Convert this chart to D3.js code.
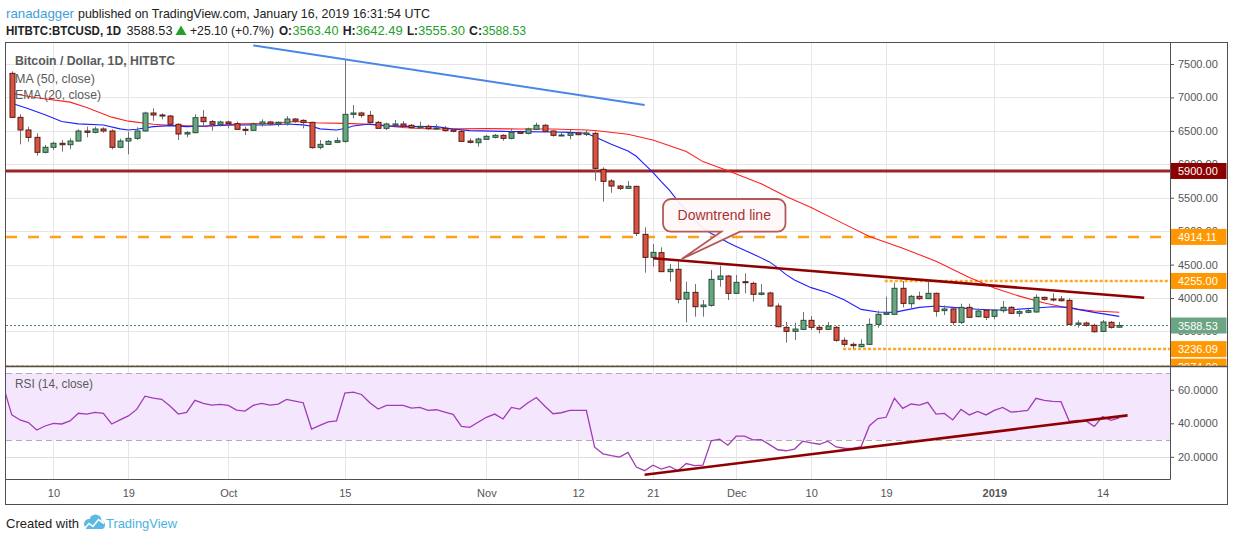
<!DOCTYPE html>
<html><head><meta charset="utf-8">
<script src="https://cdn.jsdelivr.net/npm/d3@7"></script>
<style>
html,body{margin:0;padding:0;background:#fff;}
svg{display:block;font-family:"Liberation Sans",Arial,sans-serif;}
</style></head><body>
<svg id="chart" width="1234" height="541"></svg>
<script>
// ---------------- DATA ----------------
const candleStart = "2018-09-05";
const opens = [
  /*Sep*/ 7360,6702,6513,6403,6179,6254,6314,6293,6348,6498,6478,6528,6498,6254,6348,6388,6498,6767,6737,6722,6598,6453,6473,6702,6638,6598,
  /*Oct*/ 6633,6608,6523,6508,6603,6633,6603,6618,6677,6657,6627,6254,6298,6329,6343,6747,6767,6732,6627,6538,6583,6603,6583,6548,6568,6528,6538,6513,6493,6348,6323,
  /*Nov*/ 6373,6403,6433,6388,6483,6463,6523,6583,6498,6433,6433,6468,6448,6463,5924,5750,5675,5640,5670,4952,4608,4678,4394,4429,3985,4085,3870,3890,4279,4329,
  /*Dec*/ 4070,4244,4219,4055,4075,3880,3561,3501,3531,3666,3561,3531,3561,3367,3307,3272,3307,3606,3756,3756,4145,3915,4025,3990,4070,3811,3836,3636,3860,3721,3816,
  /*Jan*/ 3726,3811,3860,3771,3786,3791,4010,3985,3985,3965,3606,3626,3591,3501,3636,3563.40
];
const highs = [
  /*Sep*/ 7390,6747,6563,6463,6289,6338,6363,6388,6523,6563,6563,6553,6523,6383,6488,6553,6787,6837,6762,6737,6613,6498,6747,6812,6663,6653,
  /*Oct*/ 6653,6638,6563,6623,6672,6650,6643,6722,6690,6672,6637,6363,6363,6403,7570,6887,6787,6797,6647,6623,6663,6647,6603,6637,6593,6597,6573,6528,6513,6388,6398,
  /*Nov*/ 6438,6453,6448,6528,6503,6548,6623,6603,6513,6473,6513,6488,6513,6488,5954,5780,5690,5750,5680,5057,4808,4758,4509,4543,4244,4209,3970,4419,4484,4344,
  /*Dec*/ 4344,4369,4244,4209,4095,3920,3641,3631,3791,3731,3596,3641,3581,3412,3337,3382,3696,3811,4020,4229,4254,4045,4095,4244,4080,3890,3860,3915,3915,3846,3831,
  /*Jan*/ 3831,3955,3880,3831,3841,4055,4020,4070,4030,3995,3666,3646,3616,3671,3656,3642.49
];
const lows = [
  /*Sep*/ 6690,6298,6338,6129,6164,6214,6189,6224,6338,6403,6463,6473,6224,6239,6149,6363,6490,6652,6672,6588,6363,6403,6463,6563,6503,6563,
  /*Oct*/ 6538,6513,6438,6503,6563,6583,6563,6578,6620,6538,6234,6224,6289,6318,6323,6687,6697,6617,6528,6513,6573,6538,6528,6533,6513,6513,6488,6478,6338,6313,6264,
  /*Nov*/ 6363,6388,6353,6373,6453,6448,6513,6483,6413,6423,6373,6433,6423,5755,5441,5575,5615,5630,4927,4379,4469,4394,4244,3920,3636,3721,3721,3870,4169,3970,
  /*Dec*/ 4060,4070,3945,4040,3870,3561,3332,3372,3521,3521,3472,3521,3347,3272,3237,3262,3297,3556,3746,3746,3860,3845,3970,3985,3721,3746,3596,3611,3701,3711,3671,
  /*Jan*/ 3681,3781,3761,3721,3771,3781,3960,3945,3945,3596,3556,3571,3481,3491,3541,3555.30
];
const closes = [
  /*Sep*/ 6702,6513,6403,6179,6254,6314,6293,6348,6498,6478,6528,6498,6254,6348,6388,6498,6767,6737,6722,6598,6453,6473,6697,6638,6598,6633,
  /*Oct*/ 6608,6523,6508,6603,6633,6603,6628,6677,6647,6627,6249,6298,6343,6353,6747,6767,6732,6627,6538,6603,6603,6573,6548,6568,6533,6543,6503,6493,6343,6328,6378,
  /*Nov*/ 6418,6433,6388,6478,6463,6528,6583,6493,6433,6438,6468,6443,6468,5939,5745,5675,5640,5670,4967,4608,4683,4394,4429,3980,4085,3870,3895,4279,4329,4070,
  /*Dec*/ 4234,4229,4055,4075,3880,3571,3501,3536,3666,3561,3531,3581,3367,3307,3287,3307,3606,3756,3776,4145,3920,4025,3990,4070,3801,3836,3636,3860,3711,3806,3711,
  /*Jan*/ 3816,3860,3771,3796,3811,4010,3980,3970,3960,3606,3626,3591,3496,3641,3561,3588.53
];

const ma50Dates = ["2018-09-05","2018-09-08","2018-09-12","2018-09-14","2018-09-17","2018-09-19","2018-09-22","2018-09-24","2018-09-27","2018-09-28",
  "2018-10-02","2018-10-06","2018-10-09","2018-10-11","2018-10-15","2018-10-18","2018-10-20","2018-10-22","2018-10-24","2018-10-26",
  "2018-11-01","2018-11-05","2018-11-09","2018-11-13","2018-11-14","2018-11-18","2018-11-21","2018-11-25","2018-11-27","2018-11-30",
  "2018-12-04","2018-12-07","2018-12-10","2018-12-14","2018-12-17","2018-12-21","2018-12-25","2018-12-29",
  "2019-01-01","2019-01-04","2019-01-07","2019-01-10","2019-01-13","2019-01-16"];
const ma50Values = [7060,6995,6930,6850,6705,6645,6600,6583,6572,6565,
  6600,6613,6640,6622,6612,6597,6575,6550,6535,6528,
  6533,6528,6528,6513,6505,6450,6363,6190,6040,5905,
  5710,5520,5355,5105,4920,4745,4550,4305,
  4150,4028,3925,3848,3805,3786];

const ema20Dates = ["2018-09-05","2018-09-07","2018-09-09","2018-09-11","2018-09-13","2018-09-16","2018-09-18","2018-09-19","2018-09-20","2018-09-22","2018-09-24","2018-09-26","2018-09-28",
  "2018-10-02","2018-10-06","2018-10-08","2018-10-10","2018-10-11","2018-10-12","2018-10-14","2018-10-15","2018-10-16","2018-10-18","2018-10-20","2018-10-24","2018-10-26","2018-10-28","2018-10-30",
  "2018-11-03","2018-11-05","2018-11-09","2018-11-11","2018-11-13","2018-11-14","2018-11-15","2018-11-16","2018-11-18","2018-11-19","2018-11-20","2018-11-21","2018-11-22","2018-11-23","2018-11-24","2018-11-25","2018-11-26","2018-11-27","2018-11-28","2018-11-29","2018-11-30",
  "2018-12-01","2018-12-03","2018-12-05","2018-12-06","2018-12-07","2018-12-08","2018-12-10","2018-12-12","2018-12-14","2018-12-16","2018-12-18","2018-12-20","2018-12-21","2018-12-23","2018-12-25","2018-12-27","2018-12-30",
  "2019-01-01","2019-01-03","2019-01-06","2019-01-08","2019-01-10","2019-01-11","2019-01-13","2019-01-16"];
const ema20Values = [6912,6830,6740,6640,6605,6588,6530,6513,6525,6563,6578,6563,6573,
  6588,6588,6603,6590,6570,6530,6513,6535,6573,6603,6575,6563,6563,6528,6503,
  6493,6488,6483,6478,6465,6413,6355,6300,6200,6120,6000,5880,5740,5610,5450,5320,5170,5045,4965,4900,4830,
  4770,4660,4540,4450,4350,4270,4155,4080,3970,3830,3790,3785,3811,3860,3880,3860,3831,
  3821,3825,3850,3870,3860,3830,3785,3725];

const rsiStart = "2018-09-04";
const rsiValues = [
  /*Sep*/ 62,45,42,40.4,36,38.4,40,39.6,41.4,46,45.5,46.5,46,39.6,42,44.4,48.3,56.2,55,54.3,50.3,45.5,46.5,53.7,51.9,50.9,51.3,
  /*Oct*/ 50.7,47.9,47.3,50.7,51.9,50.9,51.5,54.3,53.3,52.3,36.6,38.8,40.8,41.4,58,58.6,57.2,52.3,48.5,50.7,50.7,50.7,49.1,49.5,47.7,48.1,46.7,45.3,38.2,37.6,40.6,
  /*Nov*/ 43.6,45.5,42.6,49.5,48.5,52.3,55.4,50.3,45.7,46.3,47.7,47.7,47.7,25.7,21.8,20.7,19.8,22.6,13.9,11.7,15,12.7,14.3,11.7,16,14.7,15,29.5,30.5,26.9,
  /*Dec*/ 32.3,32.3,30.1,30.3,27.3,24.2,23.6,24.6,29.3,28.3,27.5,29.3,25.9,25.1,25,26.1,38.6,42.8,43.6,54.9,48.9,51.5,50.9,52.5,45.5,45.9,42,48.3,45,47.1,45,
  /*Jan*/ 47.7,49.5,46.7,47.1,47.7,54.9,53.7,53.1,52.9,41.2,41.8,41.4,38.2,44,41.8,43.2
];

const xTickDates = ["2018-09-10","2018-09-19","2018-10-01","2018-10-15","2018-11-01","2018-11-12","2018-11-21","2018-12-01","2018-12-10","2018-12-19","2019-01-01","2019-01-14"];
const xTickLabels = ["10","19","Oct","15","Nov","12","21","Dec","10","19","2019","14"];
const priceTicks = [3000,3500,4000,4500,5000,5500,6000,6500,7000,7500];
const rsiTicks = [20,40,60];

// horizontal levels
const levelPrices = [5900, 4914.11, 4255, 3236.09, 2974];
const levelStarts = [null, null, "2018-12-18T20:00Z", "2018-12-13T20:00Z", null];
const levelKinds = ["solid", "dash", "dot", "dot", "dot"];
// trend lines [date, value]
const blueTrend = [["2018-10-04", 7778], ["2018-11-20", 6888]];
const downTrend = [["2018-11-21", 4594], ["2019-01-19", 4004]];
const rsiTrend = [["2018-11-20", 9.3], ["2019-01-17", 44.75]];
// callout: tip [date, price], box corners, tail base dates
const calloutText = "Downtrend line";
const calloutTip = ["2018-11-24T11:00Z", 4583];
const calloutBox = ["2018-11-22T05:00Z", 5481, "2018-12-06T22:00Z", 4992];
const calloutTail = ["2018-11-29T05:00Z", "2018-12-01T11:00Z"];

// ---------------- LAYOUT ----------------
const L = 6, R = 1170, MT = 43, MB = 366, RB = 479, XB = 504, OR = 1227;
const svg = d3.select("#chart");
const P = s => new Date(s.length === 10 ? s + "T00:00:00Z" : s);

const x = d3.scaleUtc().domain([P("2018-09-10"), P("2019-01-14")]).range([53.4, 1102.6]);
const y = d3.scaleLinear().domain([3000, 7500]).range([364.87, 64]);
const ry = d3.scaleLinear().domain([20, 60]).range([456.8, 389.8]);

const defs = svg.append("defs");
defs.append("clipPath").attr("id","clipMain").append("rect").attr("x",L).attr("y",MT).attr("width",R-L).attr("height",MB-MT);
defs.append("clipPath").attr("id","clipRsi").append("rect").attr("x",L).attr("y",MB).attr("width",R-L).attr("height",RB-MB);
defs.append("clipPath").attr("id","clipAxisMain").append("rect").attr("x",R).attr("y",MT).attr("width",OR-R+1).attr("height",MB-MT);

// ---------------- HEADER ----------------
const hdr = svg.append("g").attr("font-size", 13);
function htext(t, xx, yy, w, opts = {}) {
  const e = hdr.append("text").attr("x", xx).attr("y", yy).text(t)
    .attr("fill", opts.fill || "#222").attr("font-weight", opts.bold ? "bold" : null);
  if (w) e.attr("textLength", w).attr("lengthAdjust", "spacingAndGlyphs");
  return e;
}
htext("ranadagger", 6, 18, 68, {fill: "#3d9fdc"});
htext("published on TradingView.com, January 16, 2019 16:31:54 UTC", 78, 18, 352);
const green = "#24a02a";
htext("HITBTC:BTCUSD, 1D", 6, 35, 115, {bold: true});
htext("3588.53", 126.5, 35, 46);
hdr.append("path").attr("d", "M181,25.5L175.5,35L186.5,35Z").attr("fill", green);
htext("+25.10 (+0.7%)", 190, 35, 84);
htext("O:", 279, 35, 13, {bold: true}); htext("3563.40", 292.5, 35, 46, {fill: green});
htext("H:", 342.7, 35, 13, {bold: true}); htext("3642.49", 355.7, 35, 47, {fill: green});
htext("L:", 407, 35, 11, {bold: true}); htext("3555.30", 418, 35, 47, {fill: green});
htext("C:", 469, 35, 13, {bold: true}); htext("3588.53", 482, 35, 44, {fill: green});

// ---------------- GRID ----------------
const grid = svg.append("g").attr("stroke", "#e6e6e6").attr("stroke-width", 1);
// RSI band
svg.append("rect").attr("x", L).attr("width", R - L).attr("y", ry(70)).attr("height", ry(30) - ry(70)).attr("fill", "#f4e7fd");
priceTicks.forEach(p => {
  const yy = Math.round(y(p)) + 0.5;
  if (yy > MT && yy < MB) grid.append("line").attr("x1", L).attr("x2", R).attr("y1", yy).attr("y2", yy);
});
rsiTicks.forEach(v => {
  const yy = Math.round(ry(v)) + 0.5;
  grid.append("line").attr("x1", L).attr("x2", R).attr("y1", yy).attr("y2", yy).attr("stroke", "#e2dbe6");
});
xTickDates.forEach(d => {
  const xx = Math.round(x(P(d))) + 0.5;
  grid.append("line").attr("x1", xx).attr("x2", xx).attr("y1", MT).attr("y2", RB);
});
[70, 30].forEach(v => {
  svg.append("line").attr("x1", L).attr("x2", R).attr("y1", Math.round(ry(v)) + 0.5).attr("y2", Math.round(ry(v)) + 0.5)
    .attr("stroke", "#b3aab3").attr("stroke-dasharray", "6,4");
});

// ---------------- MAIN PANE ----------------
const main = svg.append("g").attr("clip-path", "url(#clipMain)");

// level lines
levelPrices.forEach((p, i) => {
  const x1 = levelStarts[i] ? x(P(levelStarts[i])) : L;
  const ln = main.append("line").attr("x1", x1).attr("x2", R).attr("y1", y(p)).attr("y2", y(p));
  if (levelKinds[i] === "solid") ln.attr("stroke", "#8b0000").attr("stroke-width", 3).attr("stroke-opacity", 0.85);
  else if (levelKinds[i] === "dash") ln.attr("stroke", "#ff9800").attr("stroke-width", 2.5).attr("stroke-dasharray", "11,11").attr("stroke-opacity", 0.9);
  else ln.attr("stroke", "#ff9800").attr("stroke-width", 2.5).attr("stroke-dasharray", "3,2").attr("stroke-opacity", 0.85);
});
// current price line
const last = closes[closes.length - 1];
main.append("line").attr("x1", L).attr("x2", R).attr("y1", y(last)).attr("y2", y(last))
  .attr("stroke", "#4f8a6b").attr("stroke-width", 1).attr("stroke-dasharray", "2,2");

// moving averages
const lineGen = d3.line().x(d => x(d[0])).y(d => y(d[1]));
main.append("path").datum(ma50Dates.map((d, i) => [P(d), ma50Values[i]]))
  .attr("d", lineGen).attr("fill", "none").attr("stroke", "#ff2020").attr("stroke-width", 1.1);
main.append("path").datum(ema20Dates.map((d, i) => [P(d), ema20Values[i]]))
  .attr("d", lineGen).attr("fill", "none").attr("stroke", "#1f1fff").attr("stroke-width", 1.1);

// candles
const candles = opens.map((o, i) => ({date: d3.utcDay.offset(P(candleStart), i), o, h: highs[i], l: lows[i], c: closes[i]}));
const cg = main.append("g");
cg.selectAll("line.wick").data(candles).join("line").attr("class", "wick")
  .attr("x1", d => Math.round(x(d.date)) + 0.5).attr("x2", d => Math.round(x(d.date)) + 0.5)
  .attr("y1", d => y(d.h)).attr("y2", d => y(d.l)).attr("stroke", "#737375").attr("stroke-width", 1);
cg.selectAll("rect.body").data(candles).join("rect").attr("class", "body")
  .attr("x", d => Math.round(x(d.date)) - 2)
  .attr("width", 5)
  .attr("y", d => y(Math.max(d.o, d.c)))
  .attr("height", d => Math.max(1, Math.abs(y(d.o) - y(d.c))))
  .attr("fill", d => d.c >= d.o ? "#6ba583" : "#d75442")
  .attr("stroke", d => d.c >= d.o ? "#225437" : "#5b1a13").attr("stroke-width", 1);

// trend lines
main.append("line").attr("x1", x(P(blueTrend[0][0]))).attr("y1", y(blueTrend[0][1]))
  .attr("x2", x(P(blueTrend[1][0]))).attr("y2", y(blueTrend[1][1]))
  .attr("stroke", "#4a86e8").attr("stroke-width", 2);
main.append("line").attr("x1", x(P(downTrend[0][0]))).attr("y1", y(downTrend[0][1]))
  .attr("x2", x(P(downTrend[1][0]))).attr("y2", y(downTrend[1][1]))
  .attr("stroke", "#8f0000").attr("stroke-width", 2.6);

// callout
{
  const bx1 = x(P(calloutBox[0])), by1 = y(calloutBox[1]), bx2 = x(P(calloutBox[2])), by2 = y(calloutBox[3]);
  const tx = x(P(calloutTip[0])), ty = y(calloutTip[1]);
  const ta = x(P(calloutTail[0])), tb = x(P(calloutTail[1]));
  const r = 8;
  const p = d3.path();
  p.moveTo(bx1 + r, by1);
  p.lineTo(bx2 - r, by1); p.arcTo(bx2, by1, bx2, by1 + r, r);
  p.lineTo(bx2, by2 - r); p.arcTo(bx2, by2, bx2 - r, by2, r);
  p.lineTo(tb, by2); p.lineTo(tx, ty); p.lineTo(ta, by2);
  p.lineTo(bx1 + r, by2); p.arcTo(bx1, by2, bx1, by2 - r, r);
  p.lineTo(bx1, by1 + r); p.arcTo(bx1, by1, bx1 + r, by1, r);
  p.closePath();
  main.append("path").attr("d", p.toString()).attr("fill", "#fff7f7").attr("fill-opacity", 0.92)
    .attr("stroke", "#b4595a").attr("stroke-width", 1.8);
  main.append("text").attr("x", (bx1 + bx2) / 2).attr("y", (by1 + by2) / 2 + 5).attr("text-anchor", "middle")
    .attr("font-size", 14).attr("fill", "#a83232").text(calloutText);
}

// legend
svg.append("text").attr("x", 15).attr("y", 65).attr("font-size", 12.5).attr("font-weight", "bold").attr("fill", "#5a5a5a")
  .attr("textLength", 160).attr("lengthAdjust", "spacingAndGlyphs").text("Bitcoin / Dollar, 1D, HITBTC");
svg.append("text").attr("x", 15).attr("y", 83).attr("font-size", 12).attr("fill", "#5a5a5a")
  .attr("textLength", 80).attr("lengthAdjust", "spacingAndGlyphs").text("MA (50, close)");
svg.append("text").attr("x", 15).attr("y", 99).attr("font-size", 12).attr("fill", "#5a5a5a")
  .attr("textLength", 86).attr("lengthAdjust", "spacingAndGlyphs").text("EMA (20, close)");

// ---------------- RSI PANE ----------------
const rsiG = svg.append("g").attr("clip-path", "url(#clipRsi)");
rsiG.append("path").datum(rsiValues.map((v, i) => [d3.utcDay.offset(P(rsiStart), i), v]))
  .attr("d", d3.line().x(d => x(d[0])).y(d => ry(d[1])))
  .attr("fill", "none").attr("stroke", "#a23bb8").attr("stroke-width", 1.3);
rsiG.append("line").attr("x1", x(P(rsiTrend[0][0]))).attr("y1", ry(rsiTrend[0][1]))
  .attr("x2", x(P(rsiTrend[1][0]))).attr("y2", ry(rsiTrend[1][1]))
  .attr("stroke", "#8f0000").attr("stroke-width", 2.6);
svg.append("text").attr("x", 15).attr("y", 388).attr("font-size", 12).attr("fill", "#5a5a5a")
  .attr("textLength", 78).attr("lengthAdjust", "spacingAndGlyphs").text("RSI (14, close)");

// ---------------- AXES ----------------
const axMain = svg.append("g").attr("clip-path", "url(#clipAxisMain)");
const pa = axMain.append("g").attr("transform", `translate(${R},0)`)
  .call(d3.axisRight(y).tickValues(priceTicks).tickFormat(d => d.toFixed(2)).tickSize(4).tickPadding(4));
pa.select(".domain").remove();
pa.selectAll("line").attr("stroke", "#555");
pa.selectAll("text").attr("font-size", 11).attr("fill", "#555").attr("font-family", "Liberation Sans, Arial, sans-serif");

const labelColors = ["#8b0000", "#ff9800", "#ff9800", "#ff9800", "#ff9800"];
const boxes = levelPrices.map((p, i) => ({p, col: labelColors[i]})).concat([{p: last, col: "#6ba583"}]);
boxes.forEach(b => {
  const yy = y(b.p);
  axMain.append("rect").attr("x", R + 0.5).attr("y", yy - 8).attr("width", OR - R - 1).attr("height", 16).attr("fill", b.col);
  axMain.append("text").attr("x", R + 8).attr("y", yy + 4).attr("font-size", 11).attr("fill", "#fff").text(b.p.toFixed(2));
});

const ra = svg.append("g").attr("transform", `translate(${R},0)`)
  .call(d3.axisRight(ry).tickValues(rsiTicks).tickFormat(d => d.toFixed(4)).tickSize(4).tickPadding(4));
ra.select(".domain").remove();
ra.selectAll("line").attr("stroke", "#555");
ra.selectAll("text").attr("font-size", 11).attr("fill", "#555").attr("font-family", "Liberation Sans, Arial, sans-serif");

const xa = svg.append("g").attr("transform", `translate(0,${RB})`)
  .call(d3.axisBottom(x).tickValues(xTickDates.map(P)).tickFormat((d, i) => xTickLabels[i]).tickSize(0).tickPadding(10));
xa.select(".domain").remove();
xa.selectAll("text").attr("font-size", 11).attr("fill", "#555").attr("font-family", "Liberation Sans, Arial, sans-serif")
  .attr("font-weight", (d, i) => xTickLabels[i] === "2019" ? "bold" : null);

// ---------------- FRAME ----------------
const fr = svg.append("g").attr("stroke", "#505050").attr("stroke-width", 1).attr("fill", "none");
fr.append("rect").attr("x", 5.5).attr("y", 42.5).attr("width", OR - 5).attr("height", XB - 42);
fr.append("line").attr("x1", R + 0.5).attr("x2", R + 0.5).attr("y1", 42.5).attr("y2", RB + 0.5);
fr.append("line").attr("x1", 5.5).attr("x2", R + 0.5).attr("y1", RB + 0.5).attr("y2", RB + 0.5);
fr.append("line").attr("x1", 5.5).attr("x2", OR + 0.5).attr("y1", MB + 0.5).attr("y2", MB + 0.5).attr("stroke-width", 1.5);

// ---------------- FOOTER ----------------
svg.append("text").attr("x", 6).attr("y", 528).attr("font-size", 13).attr("fill", "#222")
  .attr("textLength", 73).attr("lengthAdjust", "spacingAndGlyphs").text("Created with");
const logo = svg.append("g");
logo.append("circle").attr("cx", 89).attr("cy", 524).attr("r", 5).attr("fill", "#5cb9e4");
logo.append("circle").attr("cx", 95.5).attr("cy", 520.5).attr("r", 6).attr("fill", "#5cb9e4");
logo.append("circle").attr("cx", 101).attr("cy", 525).attr("r", 4).attr("fill", "#5cb9e4");
logo.append("rect").attr("x", 86).attr("y", 524).attr("width", 17).attr("height", 5).attr("fill", "#5cb9e4");
logo.append("polyline").attr("points", "84,529 89,523.5 93,526.5 98.5,519.5 104,523.5").attr("fill", "none").attr("stroke", "#fff").attr("stroke-width", 1.6);
svg.append("text").attr("x", 106).attr("y", 528).attr("font-size", 13).attr("fill", "#49b2e4")
  .attr("textLength", 71).attr("lengthAdjust", "spacingAndGlyphs").text("TradingView");
</script>
</body></html>
